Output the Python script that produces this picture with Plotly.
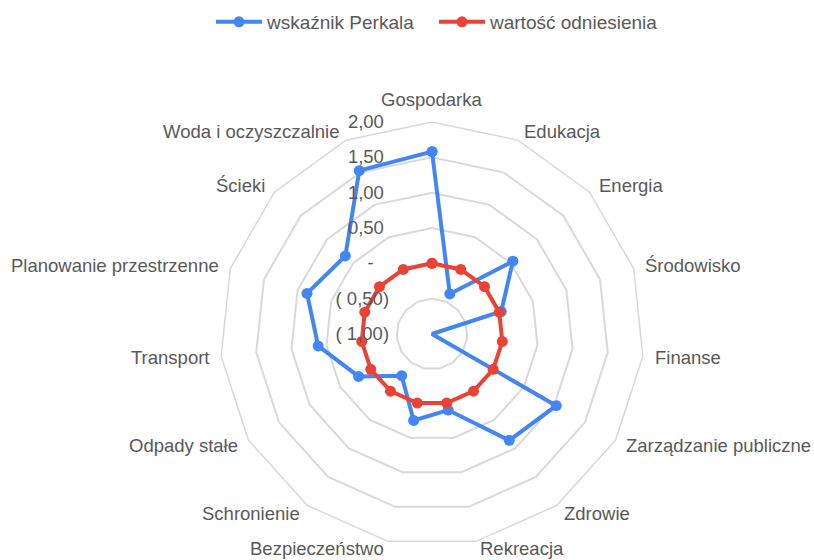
import math
import plotly.graph_objects as go

# Kategorie usług miejskich (kolejność zgodnie z ruchem wskazówek zegara)
categories = [
    "Gospodarka", "Edukacja", "Energia", "Środowisko", "Finanse",
    "Zarządzanie publiczne", "Zdrowie", "Rekreacja", "Bezpieczeństwo",
    "Schronienie", "Odpady stałe", "Transport", "Planowanie przestrzenne",
    "Ścieki", "Woda i oczyszczalnie",
]

# Wskaźnik Perkala dla każdej kategorii
perkal = [1.58, -0.38, 0.54, 0.03, -1.00, 1.03, 0.86, 0.10, 0.25,
          -0.27, 0.20, 0.62, 0.86, 0.65, 1.53]

# Wartość odniesienia
reference = [0.0] * len(categories)

# Oś radialna: wartości i etykiety w formacie księgowym
tick_vals = [-1.0, -0.5, 0.0, 0.5, 1.0, 1.5, 2.0]
tick_text = ["( 1,00)", "( 0,50)", "-\u00a0\u00a0\u00a0", "0,50\u00a0",
             "1,00\u00a0", "1,50\u00a0", "2,00\u00a0"]

# Początek skali radialnej; oś biegunowa liczy promień od zera,
# więc wartości są przesuwane o ten poziom bazowy.
R_MIN, R_MAX = -1.0, 2.0

BLUE = "#4285F4"
RED = "#EA4335"
GRID = "#d9d9d9"
TEXT = "#595959"
FONT = "Liberation Sans, Arial, sans-serif"


def closed(seq):
    return list(seq) + [seq[0]]


def to_radius(values):
    return [v - R_MIN for v in values]


fig = go.Figure()
fig.add_trace(go.Scatterpolar(
    r=closed(to_radius(perkal)), theta=closed(categories),
    name="wskaźnik Perkala",
    legend="legend",
    customdata=closed(perkal),
    hovertemplate="%{theta}: %{customdata:.2f}<extra></extra>",
    mode="lines+markers",
    line=dict(color=BLUE, width=4),
    marker=dict(color=BLUE, size=11),
))
fig.add_trace(go.Scatterpolar(
    r=closed(to_radius(reference)), theta=closed(categories),
    name="wartość odniesienia",
    legend="legend2",
    customdata=closed(reference),
    hovertemplate="%{theta}: %{customdata:.2f}<extra></extra>",
    mode="lines+markers",
    line=dict(color=RED, width=4),
    marker=dict(color=RED, size=11),
))

W, H = 814, 560
cx, cy, R = 432, 334, 212   # środek i promień wykresu radarowego (px)
LABEL_GAP = 10              # odstęp etykiet kategorii od zewnętrznego wielokąta
LABEL_HALF = 12             # połowa wysokości etykiety

# Etykiety kategorii rozmieszczone wokół zewnętrznego wielokąta
annotations = []
n = len(categories)
for i, name in enumerate(categories):
    ang = 2 * math.pi * i / n
    s, c = math.sin(ang), math.cos(ang)
    px = cx + (R + LABEL_GAP) * s
    py = min(cy - (R + LABEL_GAP) * c, H - LABEL_HALF)
    if abs(s) < 1e-6:
        xanchor = "center"
    else:
        xanchor = "left" if s > 0 else "right"
    yanchor = "bottom" if i == 0 else "middle"
    annotations.append(dict(
        text=name, x=px / W, y=1 - py / H, xref="paper", yref="paper",
        xanchor=xanchor, yanchor=yanchor, showarrow=False,
        font=dict(size=18.5, color=TEXT, family=FONT),
    ))

legend_style = dict(
    orientation="h",
    y=1 - 22 / H, yanchor="middle",
    xanchor="left",
    font=dict(size=19, color=TEXT),
    itemwidth=46,
    bgcolor="rgba(0,0,0,0)",
)

fig.update_layout(
    width=W, height=H,
    margin=dict(l=0, r=0, t=0, b=0),
    paper_bgcolor="white",
    font=dict(family=FONT, size=18.5, color=TEXT),
    showlegend=True,
    legend=dict(legend_style, x=211 / W),
    legend2=dict(legend_style, x=434 / W),
    annotations=annotations,
    polar=dict(
        domain=dict(x=[(cx - R) / W, (cx + R) / W],
                    y=[1 - (cy + R) / H, 1 - (cy - R) / H]),
        bgcolor="white",
        gridshape="linear",
        angularaxis=dict(
            direction="clockwise",
            rotation=90,
            showgrid=False,
            showline=True,
            linecolor=GRID,
            linewidth=1.5,
            ticks="",
            showticklabels=False,
        ),
        radialaxis=dict(
            range=[0, R_MAX - R_MIN],
            angle=90,
            side="counterclockwise",
            tickvals=to_radius(tick_vals),
            ticktext=tick_text,
            showline=False,
            showgrid=True,
            gridcolor=GRID,
            gridwidth=1.5,
            ticks="outside",
            ticklen=36,
            tickcolor="rgba(0,0,0,0)",
            tickfont=dict(size=18.5, color=TEXT),
            tickangle=90,
        ),
    ),
)

fig.write_html("out.html")
